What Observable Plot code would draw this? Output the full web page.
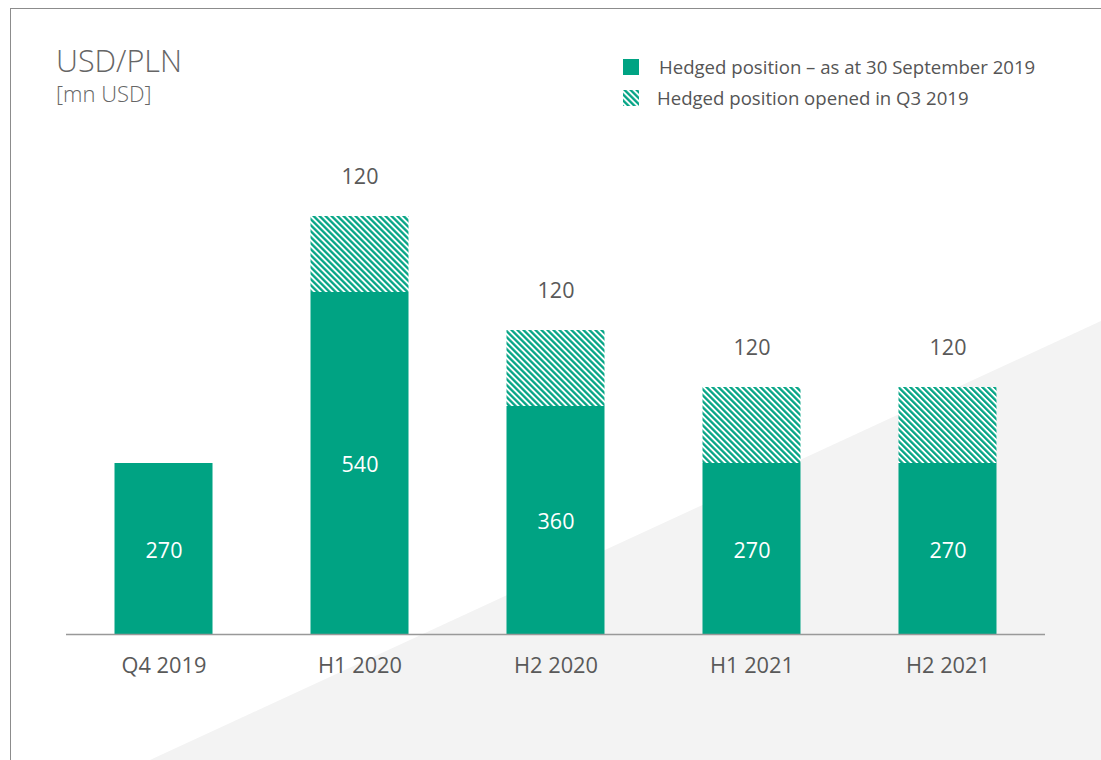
<!DOCTYPE html>
<html>
<head>
<meta charset="utf-8">
<script src="https://cdn.jsdelivr.net/npm/d3@7"></script>
<script src="https://cdn.jsdelivr.net/npm/@observablehq/plot@0.6"></script>
<style>
  html, body { margin: 0; padding: 0; background: #fff; }
  #page {
    position: relative; width: 1101px; height: 760px; overflow: hidden;
    font-family: "Open Sans", "Noto Sans", sans-serif; color: #595959;
  }
  #wedge {
    position: absolute; inset: 0; background: #f3f3f3;
    clip-path: polygon(150px 760px, 1101px 321px, 1101px 760px);
  }
  #frame {
    position: absolute; left: 10px; top: 8px; right: -2px; bottom: -2px;
    border-left: 1px solid #8c8c8c; border-top: 1px solid #8c8c8c;
  }
  #chart { position: absolute; left: 0; top: 0; }
  #title { position: absolute; left: 56px; top: 45px; font-size: 30.5px; font-weight: 300; line-height: 1; color: #666; }
  #unit { position: absolute; left: 56px; top: 82px; font-size: 22px; font-weight: 300; line-height: 1; color: #666; }
  .legend-item { position: absolute; display: flex; align-items: center; font-size: 18.6px; color: #555; }
</style>
</head>
<body>
<svg width="0" height="0" style="position:absolute">
  <defs>
    <pattern id="hatch" patternUnits="userSpaceOnUse" width="4.24" height="4.24" patternTransform="rotate(-45)">
      <rect width="4.24" height="4.24" fill="#ffffff"></rect>
      <rect width="2.3" height="4.24" fill="#00a383"></rect>
    </pattern>
  </defs>
</svg>
<div id="page">
  <div id="wedge"></div>
  <div id="frame"></div>
  <div id="chart"></div>
  <div id="title">USD/PLN</div>
  <div id="unit">[mn USD]</div>
  <div class="legend-item" style="left:623px; top:54px;">
    <svg width="16" height="16" style="margin-right:20px"><rect width="16" height="16" fill="#00a383"></rect></svg>
    <span>Hedged position – as at 30 September 2019</span>
  </div>
  <div class="legend-item" style="left:623px; top:85px;">
    <svg width="16" height="16" style="margin-right:18px"><rect width="16" height="16" fill="url(#hatch)"></rect></svg>
    <span>Hedged position opened in Q3 2019</span>
  </div>
</div>
<script>
// Hedged USD/PLN positions by period (mn USD)
const periods = ["Q4 2019", "H1 2020", "H2 2020", "H1 2021", "H2 2021"];
const hedgedAtSep = [270, 540, 360, 270, 270];
const openedQ3 = [0, 120, 120, 120, 120];

const green = "#00a383";

const rows = periods.map((p, i) => ({
  period: p,
  base: hedgedAtSep[i],
  added: openedQ3[i],
  total: hedgedAtSep[i] + openedQ3[i]
}));
const addedRows = rows.filter(d => d.added > 0);

const chart = Plot.plot({
  width: 1101,
  height: 760,
  marginLeft: 66,
  marginRight: 56,
  marginTop: 216,
  marginBottom: 126,
  style: { background: "transparent", fontFamily: "'Open Sans', 'Noto Sans', sans-serif", overflow: "visible" },
  x: { domain: periods, paddingInner: 0.5, paddingOuter: 0.2475, round: false, label: null },
  y: { domain: [0, 660], axis: null },
  marks: [
    Plot.barY(rows, { x: "period", y: "base", fill: green }),
    Plot.barY(addedRows, { x: "period", y1: "base", y2: "total", fill: "url(#hatch)" }),
    Plot.ruleY([0], { stroke: "#999", strokeWidth: 1.5 }),
    Plot.axisX({ tickSize: 0, tickPadding: 23, fontSize: 21.8, fill: "#595959", label: null }),
    Plot.text(rows, { x: "period", y: d => d.base / 2, text: d => String(d.base), dy: 2, fill: "#fff", fontSize: 21.5 }),
    Plot.text(addedRows, { x: "period", y: "total", text: d => String(d.added), dy: -39, fill: "#595959", fontSize: 21.5 })
  ]
});
document.getElementById("chart").appendChild(chart);
</script>
</body>
</html>
